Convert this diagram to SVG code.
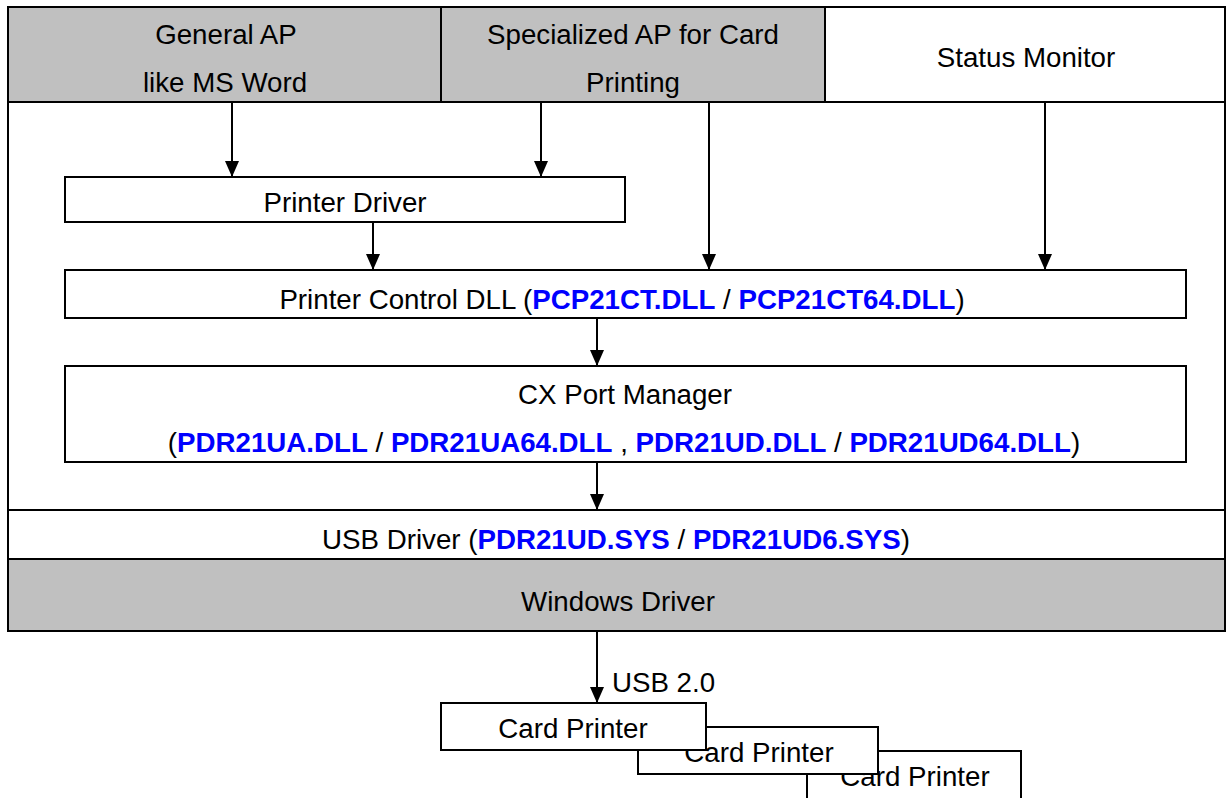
<svg xmlns="http://www.w3.org/2000/svg" width="1227" height="798" viewBox="0 0 1227 798">
<style>
text{font-family:"Liberation Sans",Arial,sans-serif;font-size:27.7px;fill:#000;text-anchor:middle}
.b{font-weight:bold;fill:#0000ff}
.box{stroke:#000;stroke-width:2}
.g{fill:#c0c0c0}
.w{fill:#fff}
.c line{stroke:#000;stroke-width:2;marker-end:url(#ah)}
</style>
<defs>
<marker id="ah" markerUnits="userSpaceOnUse" markerWidth="16" markerHeight="16" refX="16" refY="7" orient="auto">
<path d="M0,0 L16,7 L0,14 z" fill="#000"/>
</marker>
</defs>
<g id="frame"><rect class="box w" x="8" y="7" width="1217" height="624"/></g>
<g id="general-ap"><rect class="box g" x="8" y="7" width="433" height="95"/><text x="226" y="44">General AP</text><text x="225" y="92">like MS Word</text></g>
<g id="specialized-ap"><rect class="box g" x="441" y="7" width="384" height="95"/><text x="633" y="44">Specialized AP for Card</text><text x="633" y="92">Printing</text></g>
<g id="status-monitor"><rect class="box w" x="825" y="7" width="400" height="95"/><text x="1026" y="67">Status Monitor</text></g>
<g id="printer-driver"><rect class="box w" x="65" y="177" width="560" height="45"/><text x="345" y="212">Printer Driver</text></g>
<g id="printer-control"><rect class="box w" x="65" y="270" width="1121" height="48"/><text x="622" y="309">Printer Control DLL (<tspan class="b">PCP21CT.DLL</tspan> / <tspan class="b">PCP21CT64.DLL</tspan>)</text></g>
<g id="cx-port"><rect class="box w" x="65" y="366" width="1121" height="96"/><text x="625" y="404">CX Port Manager</text><text x="624" y="452">(<tspan class="b">PDR21UA.DLL</tspan> / <tspan class="b">PDR21UA64.DLL</tspan> , <tspan class="b">PDR21UD.DLL</tspan> / <tspan class="b">PDR21UD64.DLL</tspan>)</text></g>
<g id="usb-driver"><rect class="box w" x="8" y="510" width="1217" height="49"/><text x="616" y="549">USB Driver (<tspan class="b">PDR21UD.SYS</tspan> / <tspan class="b">PDR21UD6.SYS</tspan>)</text></g>
<g id="windows-driver"><rect class="box g" x="8" y="559" width="1217" height="72"/><text x="618" y="611">Windows Driver</text></g>
<g id="card-printer-3"><rect class="box w" x="807" y="751" width="214" height="60"/><text x="915" y="786">Card Printer</text></g>
<g id="card-printer-2"><rect class="box w" x="638" y="727" width="240" height="47"/><text x="759" y="762">Card Printer</text></g>
<g id="card-printer-1"><rect class="box w" x="441" y="703" width="265" height="47"/><text x="573" y="738">Card Printer</text></g>
<g id="connectors" class="c">
<line x1="232" y1="102" x2="232" y2="177"/>
<line x1="541" y1="102" x2="541" y2="177"/>
<line x1="373" y1="222" x2="373" y2="270"/>
<line x1="709" y1="102" x2="709" y2="270"/>
<line x1="1045" y1="102" x2="1045" y2="270"/>
<line x1="597" y1="318" x2="597" y2="366"/>
<line x1="597" y1="462" x2="597" y2="510"/>
<line x1="597" y1="631" x2="597" y2="703"/>
<text x="612" y="692" style="text-anchor:start">USB 2.0</text>
</g>
</svg>
